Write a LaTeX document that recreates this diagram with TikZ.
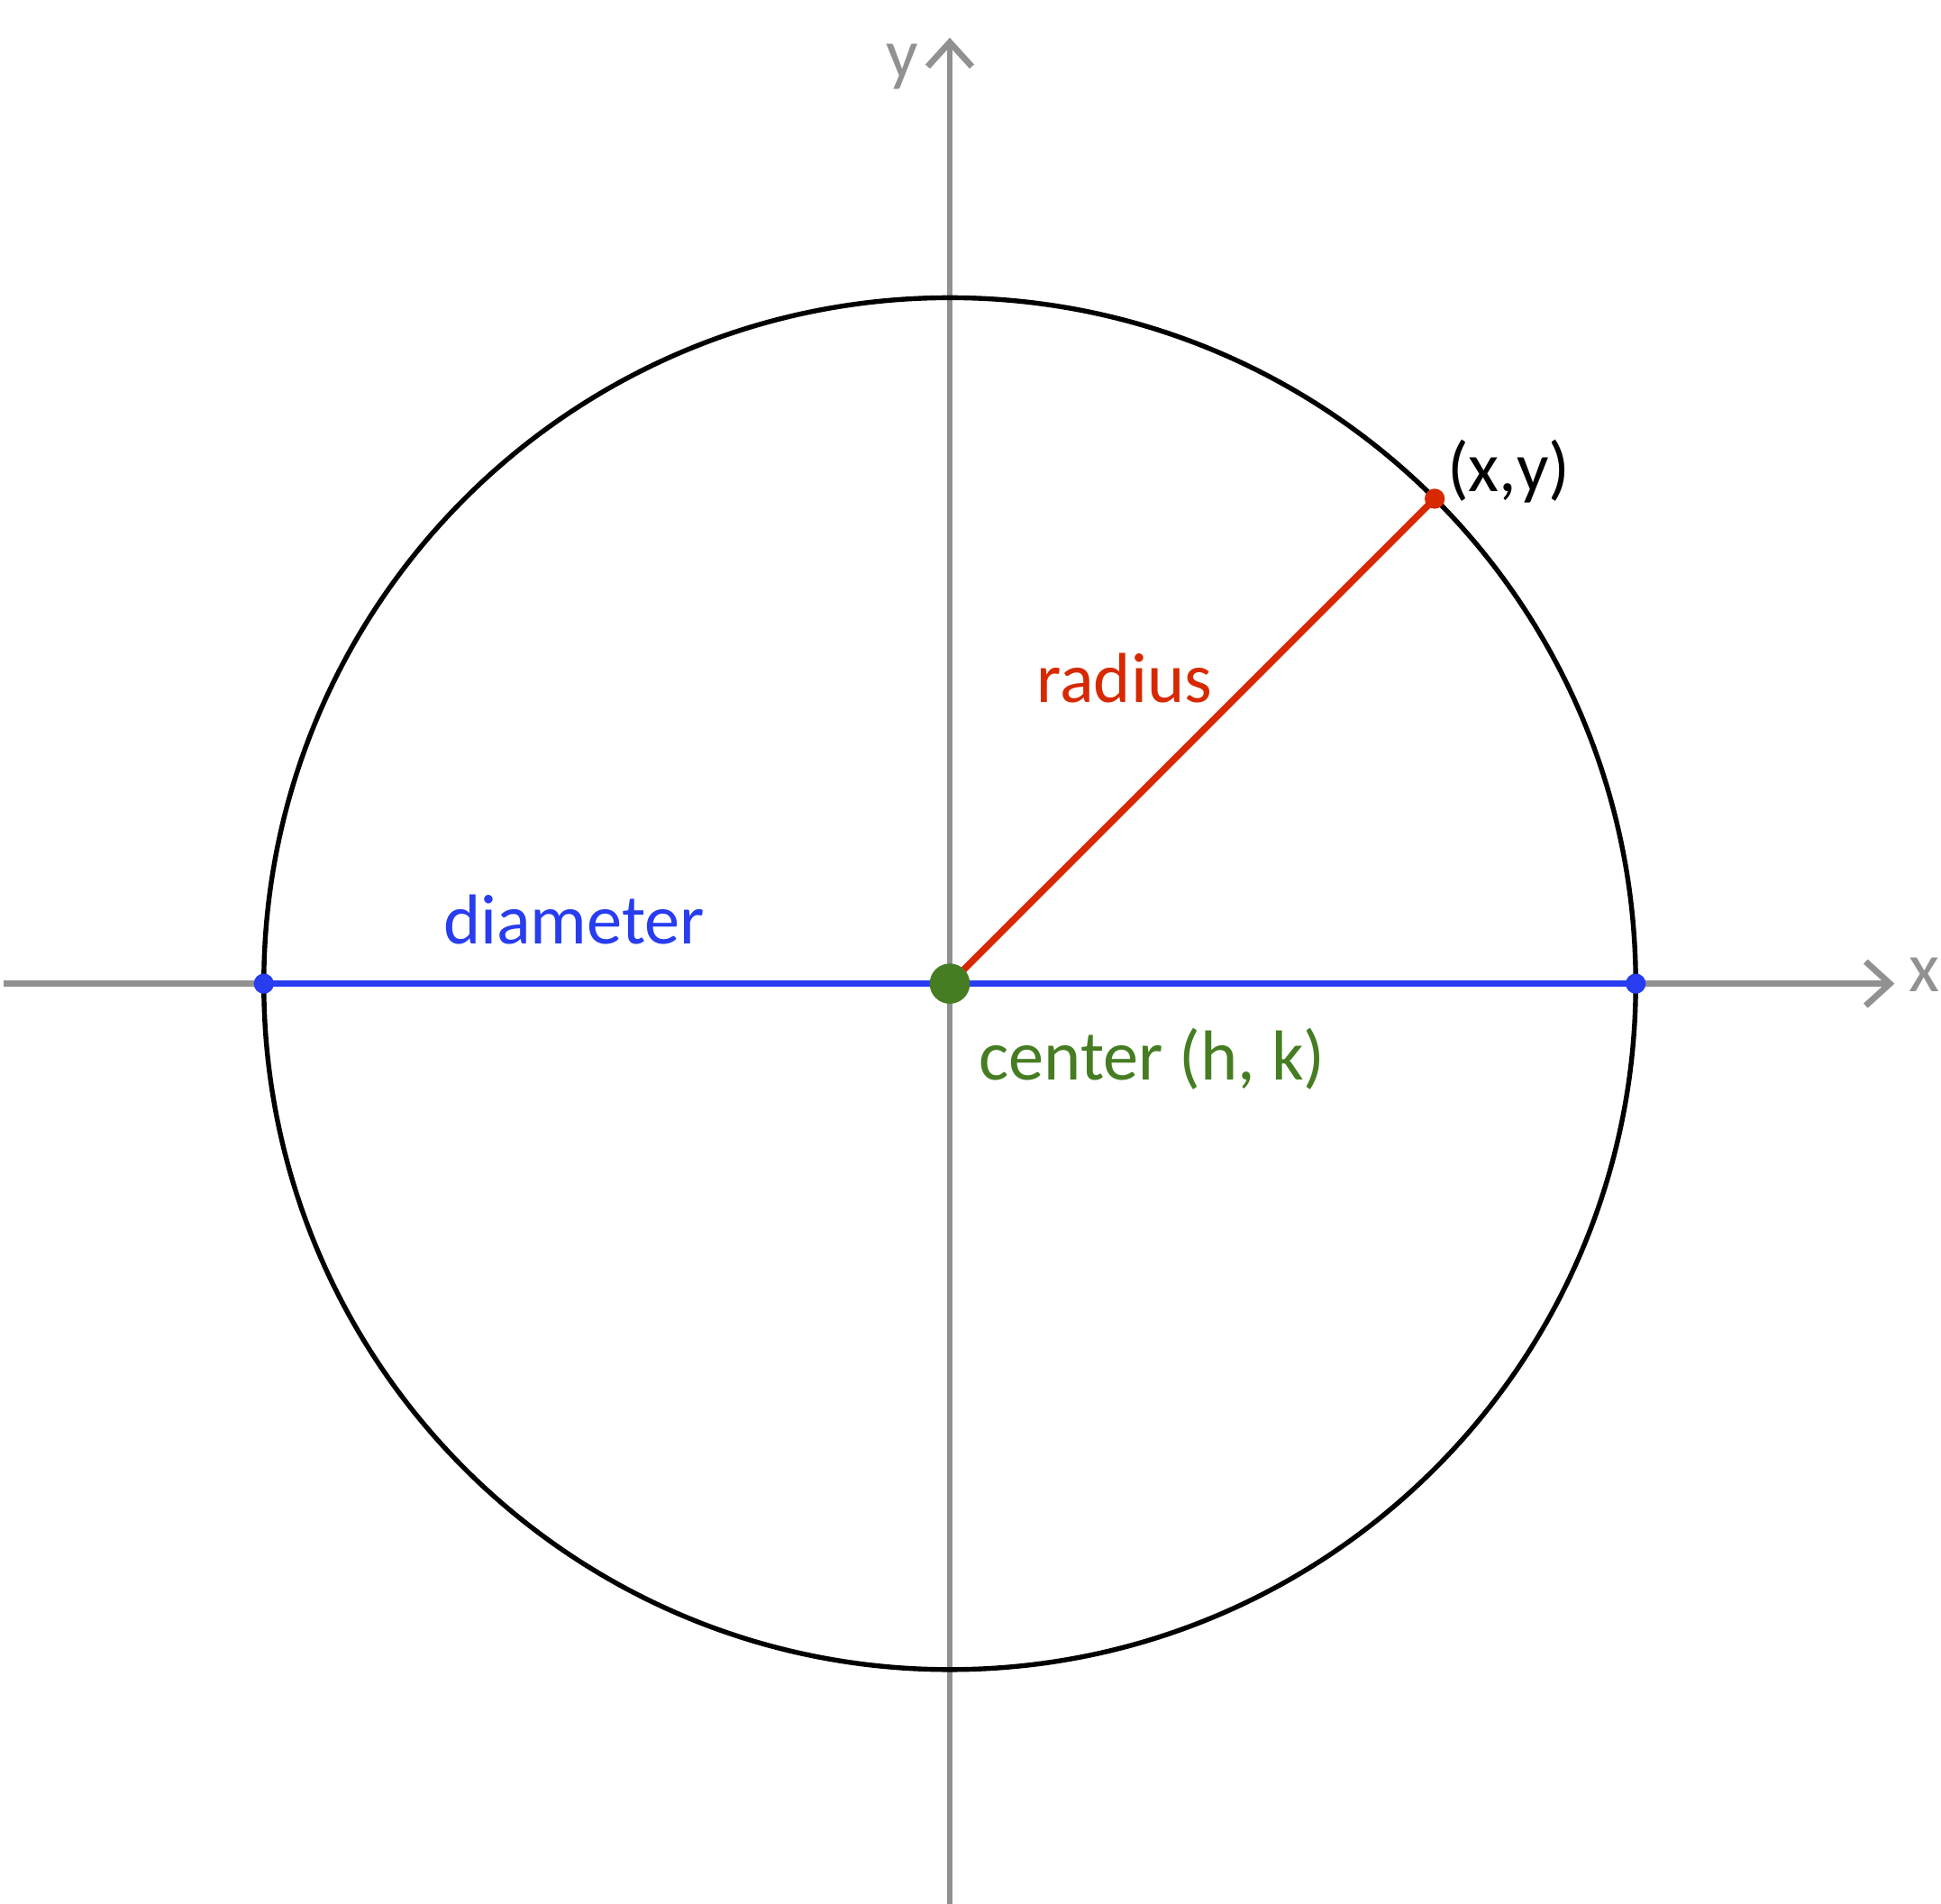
\documentclass[tikz,border=0pt]{standalone}
\usepackage{fontspec}
\setmainfont{Carlito}
\usetikzlibrary{arrows.meta}
\definecolor{axisgray}{RGB}{145,145,145}
\definecolor{dblue}{RGB}{40,60,240}
\definecolor{rred}{RGB}{215,40,0}
\definecolor{cgreen}{RGB}{70,125,35}
\begin{document}
\begin{tikzpicture}[x=0.01cm,y=0.01cm,
  axis/.style={draw=axisgray,line width=1.4pt},
  lbl/.style={font=\fontsize{16}{18}\selectfont,inner sep=0pt}]
\useasboundingbox (0,0) rectangle (1545,1515);
\coordinate (C) at (756,732);
\coordinate (L) at (210,732);
\coordinate (R) at (1302,732);
\coordinate (P) at (1142,1118);
\coordinate (xs) at (3,732);
\coordinate (xe) at (1508,732);
\coordinate (ys) at (756,-20);
\coordinate (ye) at (756,1485);
\draw[axis,-{Straight Barb[length=5.5pt,width=10pt]}] (xs) -- (xe);
\draw[axis,-{Straight Barb[length=5.5pt,width=10pt]}] (ys) -- (ye);
\draw[line width=1.1pt] (C) circle (546);
\draw[dblue,line width=1.5pt] (L) -- (R);
\draw[rred,line width=1.5pt] (C) -- (P);
\fill[dblue] (L) circle (8) (R) circle (8);
\fill[rred] (P) circle (8);
\fill[cgreen] (C) circle (16);
\node[lbl,text=axisgray] (ylab) at (718,1462) {y};
\node[lbl,text=axisgray] (xlab) at (1532,739) {x};
\node[lbl] (pt) at (1201,1140) {(x,y)};
\node[lbl,text=rred] (rad) at (895,975) {radius};
\node[lbl,text=dblue] (dia) at (457,783) {diameter};
\node[lbl,text=cgreen] (cen) at (917,672) {center (h, k)};
\end{tikzpicture}
\end{document}
